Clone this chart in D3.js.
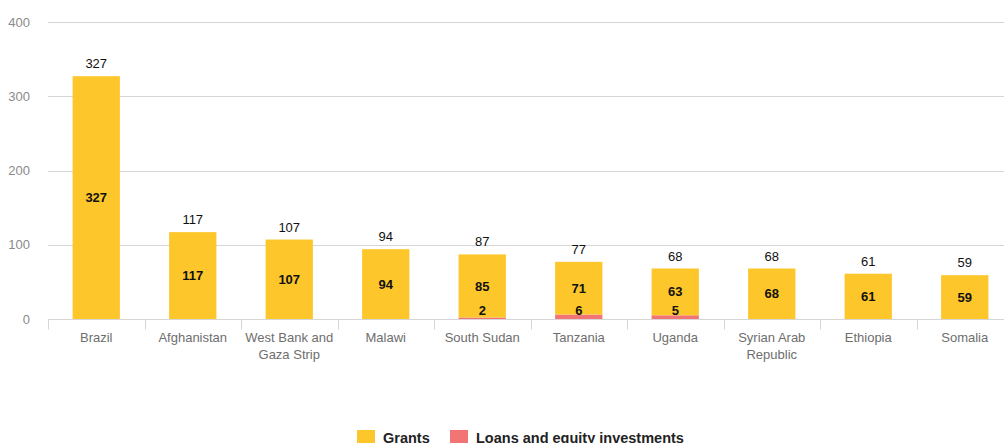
<!DOCTYPE html>
<html>
<head>
<meta charset="utf-8">
<script src="https://cdn.jsdelivr.net/npm/d3@7"></script>
<style>
  body { margin: 0; background: #fff; }
  svg { display: block; font-family: "Liberation Sans", Arial, sans-serif; }
</style>
</head>
<body>
<div id="chart"></div>
<script>
var countries = ["Brazil", "Afghanistan", "West Bank and Gaza Strip", "Malawi", "South Sudan",
                 "Tanzania", "Uganda", "Syrian Arab Republic", "Ethiopia", "Somalia"];
var grants = [327, 117, 107, 94, 85, 71, 63, 68, 61, 59];
var loans = [0, 0, 0, 0, 2, 6, 5, 0, 0, 0];
var yTicks = [0, 100, 200, 300, 400];
var seriesNames = ["Grants", "Loans and equity investments"];
var colors = ["#fdc62b", "#f37474"];

// linjeskift for lange navn
var labelLines = {
  "West Bank and Gaza Strip": ["West Bank and", "Gaza Strip"],
  "Syrian Arab Republic": ["Syrian Arab", "Republic"]
};

var width = 1004, height = 443;
var margin = {top: 22, left: 48, bottom: 124};

var svg = d3.select("#chart").append("svg")
    .attr("width", width)
    .attr("height", height);

var x = d3.scaleBand()
    .domain(countries)
    .range([margin.left, 1013])
    .padding(0);

var y = d3.scaleLinear()
    .domain([0, 400])
    .range([height - margin.bottom, margin.top]);

var barW = x.bandwidth() * 0.49;

// gridlinjer
svg.append("g")
    .selectAll("line")
    .data(yTicks)
    .enter()
    .append("line")
    .attr("x1", margin.left)
    .attr("x2", width)
    .attr("y1", function(d){ return Math.round(y(d)) + 0.5; })
    .attr("y2", function(d){ return Math.round(y(d)) + 0.5; })
    .style("stroke", "#d6d6d6")
    .style("stroke-width", 1);

// y-akse tekst
svg.append("g")
    .selectAll("text")
    .data(yTicks)
    .enter()
    .append("text")
    .attr("x", 30)
    .attr("y", function(d){ return y(d); })
    .attr("dy", "0.35em")
    .attr("text-anchor", "end")
    .style("font-size", "13px")
    .style("fill", "#8a8a8a")
    .text(function(d){ return d; });

// tick-streker under aksen
var y0 = Math.round(y(0)) + 0.5;
svg.append("g")
    .selectAll("line")
    .data(countries)
    .enter()
    .append("line")
    .attr("x1", function(d){ return Math.round(x(d)) + 0.5; })
    .attr("x2", function(d){ return Math.round(x(d)) + 0.5; })
    .attr("y1", y0)
    .attr("y2", y0 + 10)
    .style("stroke", "#d6d6d6");

// stolpene
var data = countries.map(function(c, i){
  return {country: c, grants: grants[i], loans: loans[i], total: grants[i] + loans[i]};
});

var bars = svg.append("g");

bars.selectAll(".loan")
    .data(data.filter(function(d){ return d.loans > 0; }))
    .enter()
    .append("rect")
    .attr("x", function(d){ return x(d.country) + x.bandwidth() / 2 - barW / 2; })
    .attr("y", function(d){ return y(d.loans); })
    .attr("width", barW)
    .attr("height", function(d){ return y(0) - y(d.loans); })
    .style("fill", colors[1]);

bars.selectAll(".grant")
    .data(data)
    .enter()
    .append("rect")
    .attr("x", function(d){ return x(d.country) + x.bandwidth() / 2 - barW / 2; })
    .attr("y", function(d){ return y(d.total); })
    .attr("width", barW)
    .attr("height", function(d){ return y(d.loans) - y(d.total); })
    .style("fill", colors[0]);

// verdier inne i stolpene
bars.selectAll(".glabel")
    .data(data)
    .enter()
    .append("text")
    .attr("x", function(d){ return x(d.country) + x.bandwidth() / 2; })
    .attr("y", function(d){ return (y(d.loans) + y(d.total)) / 2; })
    .attr("dy", "0.35em")
    .attr("text-anchor", "middle")
    .style("font-size", "13px")
    .style("font-weight", "bold")
    .style("fill", "#111")
    .text(function(d){ return d.grants; });

bars.selectAll(".llabel")
    .data(data.filter(function(d){ return d.loans > 0; }))
    .enter()
    .append("text")
    .attr("x", function(d){ return x(d.country) + x.bandwidth() / 2; })
    .attr("y", function(d){ return Math.min((y(0) + y(d.loans)) / 2, y(0) - 9); })
    .attr("dy", "0.35em")
    .attr("text-anchor", "middle")
    .style("font-size", "13px")
    .style("font-weight", "bold")
    .style("fill", "#111")
    .text(function(d){ return d.loans; });

// totalsum over stolpene
bars.selectAll(".tlabel")
    .data(data)
    .enter()
    .append("text")
    .attr("x", function(d){ return x(d.country) + x.bandwidth() / 2; })
    .attr("y", function(d){ return y(d.total) - 8; })
    .attr("text-anchor", "middle")
    .style("font-size", "13px")
    .style("fill", "#111")
    .text(function(d){ return d.total; });

// landnavn
var cat = svg.append("g")
    .selectAll("text")
    .data(countries)
    .enter()
    .append("text")
    .attr("x", function(d){ return x(d) + x.bandwidth() / 2; })
    .attr("y", y0 + 22)
    .attr("text-anchor", "middle")
    .style("font-size", "13px")
    .style("fill", "#6e6e6e");

cat.selectAll("tspan")
    .data(function(d){ return labelLines[d] || [d]; })
    .enter()
    .append("tspan")
    .attr("x", function(){ return d3.select(this.parentNode).attr("x"); })
    .attr("dy", function(d, i){ return i === 0 ? 0 : 17; })
    .text(function(d){ return d; });

// forklaring
var legendX = [357, 450];
var legend = svg.append("g")
    .selectAll("g")
    .data(seriesNames)
    .enter()
    .append("g")
    .attr("transform", function(d, i){ return "translate(" + legendX[i] + ",430)"; });

legend.append("rect")
    .attr("width", 18)
    .attr("height", 18)
    .style("fill", function(d, i){ return colors[i]; });

legend.append("text")
    .attr("x", 26)
    .attr("y", 13)
    .style("font-size", "14.5px")
    .style("font-weight", "bold")
    .style("fill", "#222")
    .text(function(d){ return d; });
</script>
</body>
</html>
